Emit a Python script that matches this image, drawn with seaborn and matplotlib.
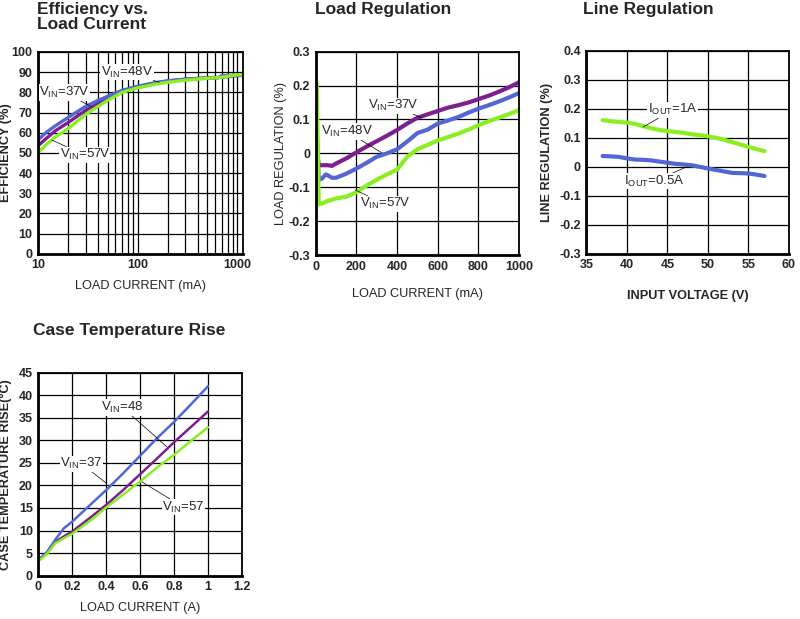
import numpy as np
import pandas as pd
import matplotlib
matplotlib.use('Agg')
import matplotlib.pyplot as plt
import seaborn as sns
from matplotlib.ticker import LogLocator, NullFormatter, FixedLocator

sns.set_style('white')
plt.rcParams['font.family'] = ['Liberation Sans', 'DejaVu Sans']
plt.rcParams['mathtext.fontset'] = 'custom'
plt.rcParams['mathtext.rm'] = 'Liberation Sans'

PURPLE = '#7E1F8F'
BLUE = '#5366D4'
GREEN = '#8AEE22'

# Efficiency vs. load current
eff_x = [10, 12, 15, 20, 30, 40, 50, 70, 100, 150, 200, 300, 500, 650, 700, 1000, 1150]
eff_37 = [53.5, 57, 61, 65, 71, 74.5, 77, 80.5, 82.7, 84.6, 85.6, 86.5, 87.2, 87.4, 87.5, 88.3, 88.4]
eff_48 = [56.4, 60, 63.5, 67.5, 73, 76, 78, 81, 83, 84.8, 85.7, 86.5, 87, 87.2, 88.3, 88.4, 88.5]
eff_57 = [50, 54, 58, 62, 69, 73, 76, 80, 82.2, 84, 85, 86, 87, 87.3, 87.5, 88.7, 88.7]

# Load regulation
lr_x = [5, 15, 30, 50, 60, 80, 100, 150, 200, 250, 300, 350, 400, 450, 500, 550, 600,
        650, 700, 750, 800, 850, 900, 950, 1000]
lr_37 = [0.02, -0.035, -0.035, -0.035, -0.035, -0.037, -0.03, -0.015, 0.003, 0.02, 0.036,
         0.052, 0.069, 0.088, 0.105, 0.115, 0.125, 0.135, 0.142, 0.15, 0.16, 0.17, 0.182,
         0.195, 0.21]
lr_48 = [0.06, -0.077, -0.075, -0.062, -0.065, -0.072, -0.072, -0.06, -0.045, -0.028, -0.01,
         0.0, 0.012, 0.035, 0.06, 0.07, 0.088, 0.097, 0.107, 0.12, 0.132, 0.142, 0.153,
         0.165, 0.178]
lr_57 = [0.205, -0.15, -0.148, -0.143, -0.14, -0.137, -0.133, -0.128, -0.115, -0.095, -0.078,
         -0.062, -0.048, -0.01, 0.012, 0.025, 0.038, 0.048, 0.058, 0.07, 0.083, 0.095, 0.105,
         0.116, 0.128]

# Line regulation
ln_x = [37, 38, 39, 40, 41, 42, 43, 44, 45, 46, 47, 48, 49, 50, 51, 52, 53, 54, 55, 56, 57]
ln_1a = [0.161, 0.157, 0.155, 0.152, 0.148, 0.14, 0.133, 0.127, 0.123, 0.12, 0.117, 0.112,
         0.109, 0.105, 0.1, 0.093, 0.085, 0.077, 0.068, 0.061, 0.054]
ln_05a = [0.037, 0.036, 0.034, 0.029, 0.025, 0.024, 0.022, 0.018, 0.014, 0.01, 0.008, 0.005,
          0.0, -0.006, -0.011, -0.016, -0.021, -0.022, -0.023, -0.027, -0.032]

# Case temperature rise
ct_x = [0, 0.05, 0.1, 0.15, 0.2, 0.3, 0.4, 0.5, 0.6, 0.7, 0.8, 0.9, 1.0]
ct_37 = [3.5, 5, 7.5, 8.7, 9.8, 12.7, 15.7, 19, 22.5, 26, 29.6, 33, 36.4]
ct_48 = [3.5, 5.2, 8, 10.5, 12, 15.5, 19, 22.7, 26.6, 30.5, 34.1, 38, 42]
ct_57 = [3.2, 4.8, 7.2, 8.3, 9.3, 12, 15.1, 18, 20.9, 24, 26.8, 29.9, 32.9]

fig = plt.figure(figsize=(8, 6.19), dpi=100)

TICK = 9
LBL = 9.2
TTL = 12.5
BOX = dict(facecolor='white', edgecolor='none', pad=0.5)


def style(ax, xlab, ylab, xbold, ybold, xc, yc):
    ax.grid(True, which='both', color='black', linewidth=0.9)
    for side, sp in ax.spines.items():
        sp.set_color('black')
        sp.set_linewidth(1.3)
    ax.spines['left'].set_linewidth(2)
    ax.spines['bottom'].set_linewidth(2)
    ax.tick_params(which='both', length=0, pad=4)
    for t in ax.get_xticklabels() + ax.get_yticklabels():
        t.set_fontsize(TICK)
        t.set_fontweight('bold')
    ax.set_xlabel(xlab, fontsize=LBL, fontweight='bold' if xbold else 'normal')
    ax.set_ylabel(ylab, fontsize=LBL, fontweight='bold' if ybold else 'normal')
    ax.xaxis.set_label_coords(0.5, xc)
    ax.yaxis.set_label_coords(yc, 0.5)


def note(ax, text, xy, xytext, ha='left'):
    ax.annotate(text, xy=xy, xytext=xytext, fontsize=9.5, ha=ha, va='center',
                bbox=BOX, arrowprops=dict(arrowstyle='-', color='black', lw=0.5,
                                           shrinkA=0, shrinkB=0))


def vin(v):
    return r'V$_\mathregular{IN}$=' + v


# ---- Efficiency
ax1 = fig.add_axes([0.0475, 0.590, 0.2565, 0.326])
sns.lineplot(x=eff_x, y=eff_37, color=PURPLE, lw=2.4, ax=ax1)
sns.lineplot(x=eff_x, y=eff_48, color=BLUE, lw=2.4, ax=ax1)
sns.lineplot(x=eff_x, y=eff_57, color=GREEN, lw=2.4, ax=ax1)
ax1.set_xscale('log')
ax1.set_xlim(10, 1150)
ax1.set_ylim(0, 100)
ax1.set_yticks(range(0, 101, 10))
ax1.xaxis.set_major_locator(FixedLocator([10, 100, 1000]))
ax1.xaxis.set_minor_locator(LogLocator(base=10, subs=range(2, 10)))
ax1.xaxis.set_minor_formatter(NullFormatter())
ax1.set_xticklabels(['10', '100', '1000'])
style(ax1, 'LOAD CURRENT (mA)', 'EFFICIENCY (%)', False, True, -0.129, -0.127)
note(ax1, vin('48V'), (165, 85), (43, 90))
note(ax1, vin('37V'), (34, 73), (10.3, 80))
note(ax1, vin('57V'), (13.7, 56.4), (16.5, 49))
fig.text(0.046, 0.997, 'Efficiency vs.\nLoad Current', fontsize=TTL, fontweight='bold',
         ha='left', va='top', linespacing=1.0)

# ---- Load regulation
ax2 = fig.add_axes([0.3946, 0.588, 0.2544, 0.3285])
sns.lineplot(x=lr_x, y=lr_37, color=PURPLE, lw=3, ax=ax2)
sns.lineplot(x=lr_x, y=lr_48, color=BLUE, lw=3, ax=ax2)
sns.lineplot(x=lr_x, y=lr_57, color=GREEN, lw=3, ax=ax2)
ax2.set_xlim(0, 1000)
ax2.set_ylim(-0.3, 0.3)
ax2.set_xticks(range(0, 1001, 200))
ax2.set_yticks(np.round(np.arange(-0.3, 0.31, 0.1), 1))
ax2.set_yticklabels(['-0.3', '-0.2', '-0.1', '0', '0.1', '0.2', '0.3'])
style(ax2, 'LOAD CURRENT (mA)', 'LOAD REGULATION (%)', False, False, -0.162, -0.141)
note(ax2, vin('37V'), (522, 0.105), (257, 0.14))
note(ax2, vin('48V'), (326, 0.001), (28, 0.064))
note(ax2, vin('57V'), (193, -0.108), (220, -0.149))
fig.text(0.394, 0.997, 'Load Regulation', fontsize=TTL, fontweight='bold', ha='left', va='top')

# ---- Line regulation
ax3 = fig.add_axes([0.733, 0.590, 0.253, 0.328])
sns.lineplot(x=ln_x, y=ln_1a, color=GREEN, lw=3, ax=ax3)
sns.lineplot(x=ln_x, y=ln_05a, color=BLUE, lw=3, ax=ax3)
ax3.set_xlim(35, 60)
ax3.set_ylim(-0.3, 0.4)
ax3.set_xticks(range(35, 61, 5))
ax3.set_yticks(np.round(np.arange(-0.3, 0.41, 0.1), 1))
ax3.set_yticklabels(['-0.3', '-0.2', '-0.1', '0', '0.1', '0.2', '0.3', '0.4'])
style(ax3, 'INPUT VOLTAGE (V)', 'LINE REGULATION (%)', True, True, -0.177, -0.166)
note(ax3, r'I$_\mathregular{OUT}$=1A', (42.0, 0.137), (42.6, 0.196))
note(ax3, r'I$_\mathregular{OUT}$=0.5A', (47.4, 0.0), (39.6, -0.05))
fig.text(0.729, 0.997, 'Line Regulation', fontsize=TTL, fontweight='bold', ha='left', va='top')

# ---- Case temperature rise
ax4 = fig.add_axes([0.048, 0.070, 0.2545, 0.328])
sns.lineplot(x=ct_x, y=ct_37, color=PURPLE, lw=1.8, ax=ax4)
sns.lineplot(x=ct_x, y=ct_48, color=BLUE, lw=1.8, ax=ax4)
sns.lineplot(x=ct_x, y=ct_57, color=GREEN, lw=1.8, ax=ax4)
ax4.set_xlim(0, 1.2)
ax4.set_ylim(0, 45)
ax4.set_xticks(np.round(np.arange(0, 1.21, 0.2), 1))
ax4.set_xticklabels(['0', '0.2', '0.4', '0.6', '0.8', '1', '1.2'])
ax4.set_yticks(range(0, 46, 5))
style(ax4, 'LOAD CURRENT (A)', 'CASE TEMPERATURE RISE(\u00b0C)', False, True, -0.128, -0.129)
note(ax4, vin('48'), (0.756, 28.6), (0.37, 37.3))
note(ax4, vin('37'), (0.40, 20.5), (0.13, 24.8))
note(ax4, vin('57'), (0.61, 20.8), (0.73, 15.2))
fig.text(0.041, 0.478, 'Case Temperature Rise', fontsize=TTL, fontweight='bold',
         ha='left', va='top')

fig.savefig('out.png', dpi=100)
